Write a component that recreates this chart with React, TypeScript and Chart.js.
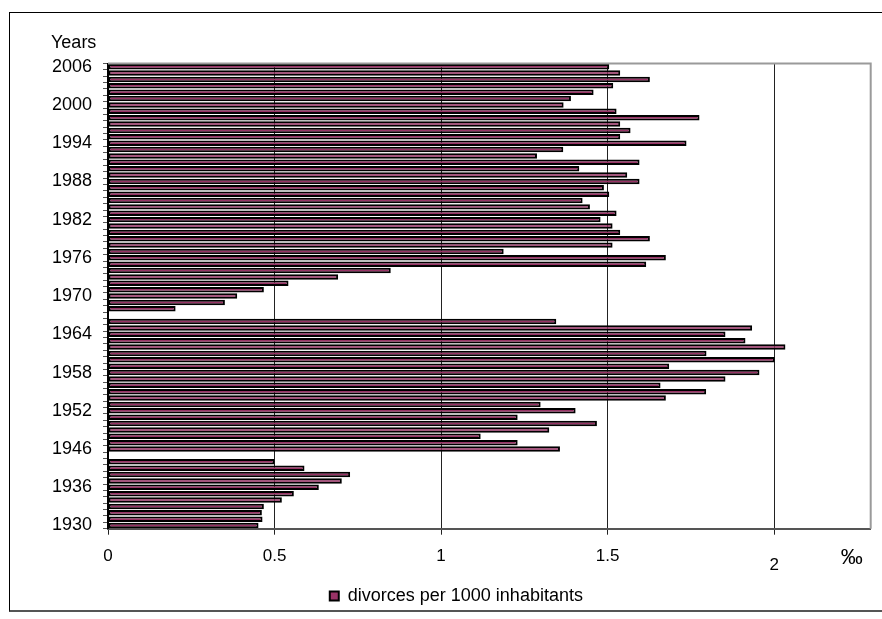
import React, { useEffect, useRef } from "react";
import { Chart, registerables } from "chart.js";

Chart.register(...registerables);

// Categories (1942–1945 absent in the source; 1941 and 1967 have no value)
const years: string[] = [
  "1930", "1931", "1932", "1933", "1934", "1935", "1936", "1937", "1938", "1939", "1940", "1941",
  "1946", "1947", "1948", "1949", "1950", "1951", "1952", "1953", "1954", "1955", "1956", "1957",
  "1958", "1959", "1960", "1961", "1962", "1963", "1964", "1965", "1966", "1967", "1968", "1969",
  "1970", "1971", "1972", "1973", "1974", "1975", "1976", "1977", "1978", "1979", "1980", "1981",
  "1982", "1983", "1984", "1985", "1986", "1987", "1988", "1989", "1990", "1991", "1992", "1993",
  "1994", "1995", "1996", "1997", "1998", "1999", "2000", "2001", "2002", "2003", "2004", "2005",
  "2006",
];

const divorces: (number | null)[] = [
  0.452, 0.464, 0.462, 0.468, 0.522, 0.558, 0.633, 0.702, 0.727, 0.59, 0.5, null,
  1.357, 1.23, 1.119, 1.325, 1.468, 1.23, 1.404, 1.299, 1.675, 1.796, 1.659, 1.854,
  1.956, 1.685, 2.002, 1.797, 2.034, 1.914, 1.854, 1.934, 1.346, null, 0.203, 0.351,
  0.388, 0.468, 0.542, 0.691, 0.849, 1.616, 1.675, 1.188, 1.515, 1.627, 1.538, 1.515,
  1.479, 1.527, 1.447, 1.425, 1.505, 1.489, 1.596, 1.559, 1.415, 1.596, 1.288, 1.367,
  1.737, 1.538, 1.569, 1.538, 1.776, 1.527, 1.368, 1.39, 1.458, 1.517, 1.627, 1.538,
  1.505,
];

const xTicks: number[] = [0, 0.5, 1, 1.5, 2];
const yLabelEvery = 6;
const legendLabel = "divorces per 1000 inhabitants";
const yTitle = "Years";
const xUnit = "‰";

const FONT = '"Liberation Sans", Arial, Helvetica, sans-serif';

export default function App() {
  const ref = useRef<HTMLCanvasElement>(null);

  useEffect(() => {
    if (!ref.current) return;

    const extras = {
      id: "extras",
      afterDatasetsDraw(chart: any) {
        const { ctx, chartArea: a } = chart;
        ctx.save();
        ctx.strokeStyle = "#9a9a9a";
        ctx.lineWidth = 2;
        ctx.beginPath();
        ctx.moveTo(a.left, a.top);
        ctx.lineTo(a.right, a.top);
        ctx.lineTo(a.right, a.bottom);
        ctx.stroke();
        ctx.restore();
      },
      afterDraw(chart: any) {
        const { ctx, chartArea: a } = chart;
        ctx.save();
        ctx.fillStyle = "#000";
        ctx.font = `18px ${FONT}`;
        ctx.textBaseline = "middle";
        ctx.textAlign = "left";
        ctx.fillText(yTitle, a.left - 57, a.top - 20);
        ctx.font = `22px ${FONT}`;
        ctx.textAlign = "center";
        ctx.fillText(xUnit, a.right - 19, a.bottom + 29);
        ctx.restore();
      },
    };

    const chart = new Chart(ref.current, {
      type: "bar",
      data: {
        labels: years,
        datasets: [
          {
            label: legendLabel,
            data: divorces,
            backgroundColor: "#993366",
            borderColor: "#000000",
            borderWidth: 2,
            borderSkipped: false,
            barPercentage: 0.86,
            categoryPercentage: 1,
          },
        ],
      },
      options: {
        indexAxis: "y",
        responsive: false,
        animation: false,
        devicePixelRatio: 1,
        layout: { padding: { left: 42, right: 11.3, top: 63.5, bottom: 4 } },
        scales: {
          x: {
            type: "linear",
            min: 0,
            max: 2.29,
            afterBuildTicks: (scale: any) => {
              scale.ticks = xTicks.map((v) => ({ value: v }));
            },
            afterFit: (scale: any) => {
              scale.height = 48.3;
            },
            grid: { color: "#222", lineWidth: 1, tickLength: 6, drawTicks: true },
            border: { color: "#555", width: 2 },
            ticks: {
              autoSkip: false,
              maxRotation: 0,
              padding: 11,
              color: "#000",
              font: (c: any) => ({
                size: 17,
                family: FONT,
                lineHeight: c.tick && c.tick.value === 2 ? 2.25 : 1.2,
              }),
              callback: (v: any) => String(v),
            },
          },
          y: {
            type: "category",
            reverse: true,
            afterFit: (scale: any) => {
              scale.width = 66;
            },
            grid: {
              drawOnChartArea: false,
              drawTicks: true,
              tickLength: 5,
              color: "#555",
              offset: true,
            },
            border: { color: "#000", width: 2 },
            ticks: {
              autoSkip: false,
              padding: 11,
              color: "#000",
              font: { size: 18, family: FONT },
              callback: (_v: any, i: number) => (i % yLabelEvery === 0 ? years[i] : ""),
            },
          },
        },
        plugins: {
          legend: {
            position: "bottom",
            labels: {
              color: "#000",
              font: { size: 18, family: FONT },
              boxWidth: 9,
              boxHeight: 9,
              padding: 10,
            },
          },
          tooltip: { enabled: false },
          title: { display: false },
        },
      },
      plugins: [extras],
    } as any);

    return () => chart.destroy();
  }, []);

  return (
    <div
      style={{
        position: "fixed",
        left: 0,
        top: 0,
        width: 882,
        height: 619,
        overflow: "hidden",
        background: "#fff",
      }}
    >
      <div
        style={{
          position: "absolute",
          left: 9,
          top: 12,
          width: 900,
          height: 600,
          boxSizing: "border-box",
          borderLeft: "1px solid #000",
          borderTop: "1px solid #000",
          borderBottom: "2px solid #555",
        }}
      />
      <canvas
        ref={ref}
        width={882}
        height={619}
        style={{ position: "absolute", left: 0, top: 0, width: 882, height: 619 }}
      />
    </div>
  );
}
